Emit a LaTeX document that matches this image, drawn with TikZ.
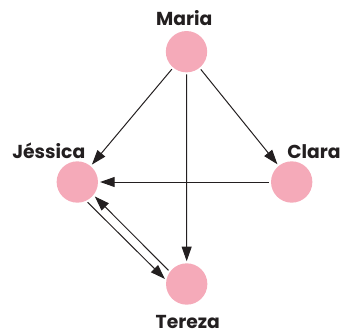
\documentclass[tikz,border=0pt]{standalone}
\usepackage{fontspec}
\setmainfont{Poppins}
\usepackage{tikz}
\usetikzlibrary{positioning, arrows.meta, calc}
\definecolor{personpink}{RGB}{245,170,185}
\definecolor{arrowgray}{RGB}{35,31,32}

\begin{document}
\begin{tikzpicture}[
  x=0.03cm, y=-0.03cm,
  >={Triangle[length=4.4mm, width=3mm]},
  every node/.style={font=\fontsize{16pt}{19pt}\selectfont\bfseries, text=arrowgray},
  person/.style = {circle, fill=personpink, minimum size=1.24cm, inner sep=0pt, outer sep=0pt},
  who/.style    = {anchor=base, inner sep=0pt},
  arr/.style    = {->, line width=0.85pt, arrowgray, shorten >=1.8pt, shorten <=1.8pt},
]
  \useasboundingbox (0,0) rectangle (345,334);
  % the four people
  \node[person] (maria)   at (186.5,51.7) {};
  \node[person] (jessica) at (77.3,182)   {};
  \node[person] (clara)   at (291.7,182)  {};
  \node[person] (tereza)  at (186.7,284)  {};
  % names
  \node[who] (marianame)   at (184.3,25)  {Maria};
  \node[who] (jessicaname) at (48.8,158)  {Jéssica};
  \node[who] (claraname)   at (314,158)   {Clara};
  \node[who] (terezaname)  at (187.8,328) {Tereza};
  % who points to whom
  \foreach \a/\b in {maria/jessica, maria/clara, maria/tereza, clara/jessica, jessica.-65/tereza.170, tereza.144/jessica.-39}
     \draw[arr] (\a) -- (\b);
\end{tikzpicture}
\end{document}
